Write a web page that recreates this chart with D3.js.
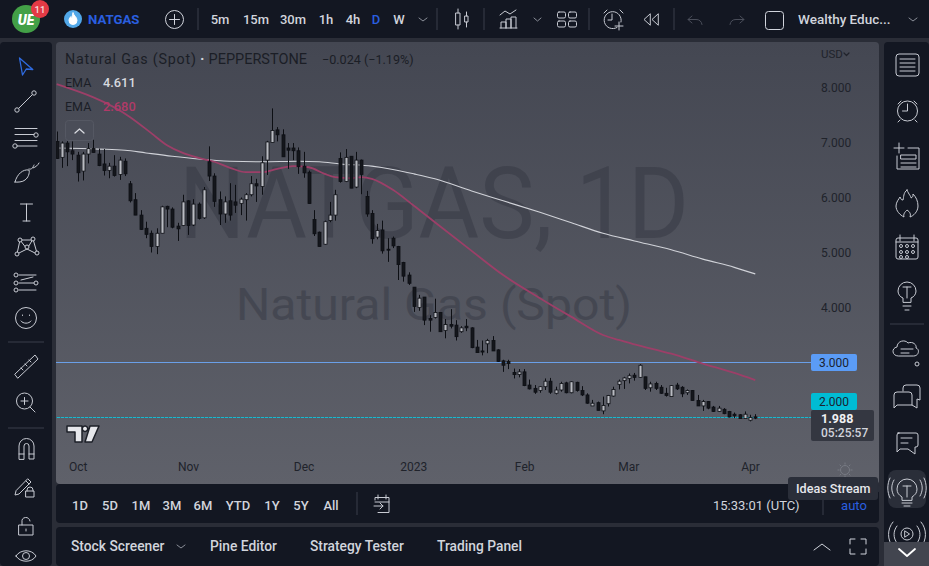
<!DOCTYPE html>
<html><head><meta charset="utf-8">
<style>html,body{margin:0;padding:0;background:#2a2d37;overflow:hidden}svg{display:block}text{font-family:Roboto,"Noto Sans",sans-serif}</style>
<script src="https://cdn.jsdelivr.net/npm/d3@7/dist/d3.min.js"></script>
</head><body><script>
// ---- data ----
const opens=[7.02,6.73,6.99,6.85,6.77,6.48,6.79,6.89,6.79,6.61,6.49,6.57,6.42,6.66,6.25,5.96,5.68,5.44,5.35,5.11,5.35,5.84,5.79,5.48,5.49,5.94,5.50,5.88,5.63,6.65,6.39,5.96,5.70,5.94,5.92,5.89,5.96,6.05,6.25,6.20,6.68,7.00,7.23,7.14,6.90,6.90,6.85,6.57,6.46,5.60,5.37,5.15,5.58,5.68,6.71,6.29,6.75,6.19,6.68,6.02,5.71,5.28,5.41,5.06,5.26,5.11,4.82,4.59,4.37,4.00,4.19,3.80,3.82,3.91,3.58,3.69,3.68,3.56,3.66,3.63,3.28,3.21,3.34,3.40,3.23,3.03,3.02,2.82,2.78,2.83,2.59,2.53,2.49,2.56,2.66,2.44,2.50,2.63,2.45,2.64,2.49,2.41,2.21,2.27,2.12,2.25,2.39,2.60,2.67,2.71,2.77,2.73,2.74,2.54,2.62,2.55,2.44,2.38,2.59,2.55,2.45,2.49,2.31,2.21,2.29,2.19,2.11,2.15,2.11,2.06,2.05,1.98,1.95,2.012];
const highs=[7.20,7.02,7.03,7.02,6.83,6.83,6.99,7.05,6.89,6.88,6.63,6.77,6.74,6.71,6.30,6.08,5.77,5.56,5.40,5.44,5.85,5.85,5.82,5.54,6.05,5.95,5.97,5.91,6.19,6.93,6.44,6.11,6.02,6.26,6.23,6.00,6.08,6.39,6.34,6.75,7.03,7.62,7.28,7.24,6.99,6.99,6.91,6.83,6.49,5.77,5.38,5.58,5.92,6.14,6.82,6.88,6.75,6.83,6.69,6.12,5.77,5.52,5.58,5.26,5.29,5.12,4.83,4.64,4.37,4.23,4.19,3.86,4.16,3.91,3.79,3.97,3.77,3.66,3.79,3.64,3.41,3.40,3.43,3.48,3.24,3.05,3.05,2.89,2.88,2.88,2.69,2.59,2.57,2.71,2.72,2.56,2.65,2.65,2.66,2.65,2.57,2.44,2.32,2.29,2.38,2.41,2.56,2.69,2.74,2.80,2.81,2.97,2.74,2.65,2.65,2.59,2.54,2.59,2.63,2.57,2.51,2.50,2.41,2.32,2.30,2.21,2.21,2.17,2.12,2.09,2.06,2.11,2.05,2.06];
const lows=[6.70,6.54,6.57,6.68,6.29,6.31,6.62,6.82,6.57,6.40,6.35,6.38,6.32,6.39,5.91,5.68,5.41,5.26,5.00,4.97,5.35,5.46,5.44,5.21,5.48,5.32,5.48,5.60,5.61,6.30,5.83,5.50,5.54,5.58,5.72,5.68,5.58,6.02,5.92,6.05,6.41,7.00,7.02,6.74,6.52,6.68,6.43,6.36,5.89,5.30,5.11,5.14,5.55,5.58,6.27,6.28,6.17,6.17,6.06,5.65,5.16,5.24,4.98,4.83,5.08,4.50,4.47,4.41,3.92,3.94,3.68,3.56,3.80,3.56,3.44,3.62,3.40,3.54,3.57,3.26,3.18,3.13,3.17,3.21,3.01,2.83,2.88,2.71,2.73,2.57,2.51,2.43,2.45,2.50,2.43,2.42,2.47,2.44,2.44,2.47,2.39,2.25,2.21,2.13,2.06,2.20,2.38,2.51,2.52,2.62,2.67,2.72,2.50,2.47,2.50,2.43,2.38,2.38,2.50,2.37,2.41,2.31,2.21,2.12,2.15,2.10,2.10,2.06,2.00,1.99,1.98,1.98,1.93,1.97];
const closes=[6.71,6.99,6.83,6.79,6.45,6.79,6.89,6.82,6.58,6.49,6.57,6.40,6.68,6.43,5.94,5.68,5.42,5.33,5.11,5.35,5.83,5.79,5.46,5.43,5.92,5.49,5.88,5.62,6.14,6.39,5.93,5.70,5.92,5.68,5.86,5.97,6.05,6.25,6.21,6.63,7.01,7.22,7.14,6.74,6.86,6.85,6.56,6.45,5.89,5.34,5.11,5.56,5.68,6.05,6.29,6.73,6.17,6.68,6.42,5.70,5.25,5.40,5.03,5.05,5.12,4.78,4.57,4.44,4.02,4.17,3.77,3.77,3.91,3.56,3.69,3.66,3.47,3.63,3.63,3.27,3.18,3.19,3.40,3.21,3.02,2.95,2.98,2.78,2.83,2.58,2.52,2.46,2.56,2.66,2.46,2.50,2.62,2.45,2.65,2.49,2.41,2.26,2.26,2.13,2.22,2.40,2.51,2.66,2.72,2.76,2.73,2.95,2.53,2.61,2.53,2.44,2.40,2.58,2.52,2.43,2.49,2.31,2.21,2.29,2.17,2.11,2.17,2.07,2.01,2.03,1.98,2.06,2.00,1.988];
const ema200Bars=[0,8,13,17,22,27,33,39,46,50,54,60,64,68,72,79,85,92,98,104,110,117,123,129,133];
const ema200=[6.90,6.88,6.86,6.81,6.75,6.70,6.66,6.65,6.66,6.65,6.61,6.57,6.51,6.43,6.34,6.12,5.94,5.73,5.54,5.35,5.21,5.05,4.88,4.73,4.611];
const ema50Bars=[0,14,18,21,24,27,30,33,36,39,42,45,48,51,53,56,58,60,64,68,72,79,85,92,98,104,107,110,117,123,129,133];
const ema50=[8.06,7.46,7.17,6.95,6.81,6.72,6.65,6.54,6.46,6.46,6.52,6.57,6.55,6.43,6.37,6.35,6.37,6.34,6.14,5.85,5.55,5.03,4.59,4.17,3.83,3.50,3.41,3.33,3.16,2.98,2.81,2.68];
const priceTicks=[8,7,6,5,4];
const levelPrices=[3,2];
const monthBars=[4,25,47,69,89,109,132];
const monthLabels=["Oct","Nov","Dec","2023","Feb","Mar","Apr"];
const periods=["5m","15m","30m","1h","4h","D","W"];
const ranges=["1D","5D","1M","3M","6M","YTD","1Y","5Y","All"];
const tabs=["Stock Screener","Pine Editor","Strategy Tester","Trading Panel"];

// ---- canvas ----
const W=929,H=566,UI="#131722",FG="#d1d4dc",ICON="#c8cbd3",BLUE="#2a5fe0";
const svg=d3.select("body").append("svg").attr("width",W).attr("height",H);
const defs=svg.append("defs");
const g=defs.append("linearGradient").attr("id","bg").attr("x1",0).attr("x2",0).attr("y1",0).attr("y2",1);
g.append("stop").attr("offset",0).attr("stop-color","#444752");
g.append("stop").attr("offset",1).attr("stop-color","#5f616a");
defs.append("clipPath").attr("id","plot").append("rect").attr("x",56).attr("y",42).attr("width",755).attr("height",442);

const rect=(x,y,w,h,f,r=0)=>svg.append("rect").attr("x",x).attr("y",y).attr("width",w).attr("height",h).attr("fill",f).attr("rx",r);
const txt=(x,y,s,o={})=>svg.append("text").attr("x",x).attr("y",y).text(s)
  .attr("fill",o.f||FG).attr("font-size",o.s||13).attr("font-weight",o.w||400).attr("text-anchor",o.a||"start")
  .attr("dominant-baseline","central");
const ico=(d,o={})=>svg.append("path").attr("d",d).attr("fill",o.f||"none").attr("stroke",o.c||ICON).attr("stroke-width",o.w||1).attr("stroke-linecap","round").attr("stroke-linejoin","round");
const sep=(x1,y1,x2,y2)=>svg.append("line").attr("x1",x1).attr("y1",y1).attr("x2",x2).attr("y2",y2).attr("stroke","#3a3e4a");

// panels
rect(0,0,W,38,UI);
rect(0,42,52,H-42,UI,4);
rect(884,42,45,H-42,UI,4);
rect(56,42,823,442,"url(#bg)",4);
rect(56,484,823,39,UI,4);
rect(56,527,823,39,UI,4);

// watermark
txt(434,203,"NATGAS, 1D",{s:100,f:"#30333e",a:"middle"}).attr("opacity",.42).attr("textLength",510).attr("lengthAdjust","spacingAndGlyphs");
txt(434,305,"Natural Gas (Spot)",{s:44,f:"#30333e",a:"middle"}).attr("opacity",.42).attr("textLength",396).attr("lengthAdjust","spacingAndGlyphs");

// scales
const x=d3.scaleLinear().domain([0,133]).range([56.7,755.3]);
const y=d3.scaleLinear().domain([8,3]).range([87.5,362.5]);

// level lines
const plot=svg.append("g").attr("clip-path","url(#plot)");
const levelColors=["#6a9fe8","#1fb6cc"];
plot.selectAll("line.level").data(levelPrices).join("line").attr("class","level")
  .attr("x1",56).attr("x2",811).attr("y1",d=>y(d)).attr("y2",d=>y(d))
  .attr("stroke",(d,i)=>levelColors[i]).attr("stroke-width",1);
plot.append("line").attr("x1",56).attr("x2",811).attr("y1",y(2)).attr("y2",y(2))
  .attr("stroke","#1a1d25").attr("stroke-dasharray","1 3").attr("opacity",.35);

// EMAs
const pts=(b,v)=>b.map((d,i)=>[d,v[i]]);
const ln=d3.line().x(d=>x(d[0])).y(d=>y(d[1])).curve(d3.curveMonotoneX);
plot.append("path").attr("d",ln(pts(ema200Bars,ema200))).attr("fill","none").attr("stroke","#d0d2d8").attr("stroke-width",1.1);
plot.append("path").attr("d",ln(pts(ema50Bars,ema50))).attr("fill","none").attr("stroke","#9c3f68").attr("stroke-width",1.8);

// candles
const idx=d3.range(opens.length);
const c=plot.selectAll("g.c").data(idx).join("g").attr("class","c");
c.append("line").attr("x1",i=>Math.round(x(i))+.5).attr("x2",i=>Math.round(x(i))+.5).attr("y1",i=>y(highs[i])).attr("y2",i=>y(lows[i])).attr("stroke","#0d0f14");
c.append("rect").attr("x",i=>Math.round(x(i))-1).attr("width",3)
  .attr("y",i=>y(Math.max(opens[i],closes[i]))).attr("height",i=>Math.max(1,Math.abs(y(opens[i])-y(closes[i]))))
  .attr("fill",i=>closes[i]>=opens[i]?"#b9bbc2":"#14161c").attr("stroke","#0d0f14").attr("stroke-width",.8);

// axes
const ay=svg.append("g").attr("transform","translate(821,0)").call(d3.axisRight(y).tickValues(priceTicks).tickFormat(d3.format(".3f")).tickSize(0).tickPadding(0));
ay.select(".domain").remove();
ay.selectAll("text").attr("fill","#20232b").attr("font-size",12).attr("font-family","Roboto,sans-serif");
const ax=svg.append("g").attr("transform","translate(0,462)").call(d3.axisBottom(x).tickValues(monthBars).tickFormat((d,i)=>monthLabels[i]).tickSize(0).tickPadding(0));
ax.select(".domain").remove();
ax.selectAll("text").attr("fill","#20232b").attr("font-size",12).attr("font-family","Roboto,sans-serif");
ax.selectAll(".tick").filter((d,i)=>i===3).select("text").attr("dx",-6);
ax.selectAll(".tick").filter((d,i)=>i===5).select("text").attr("dx",-1);

// legend
txt(65,59,"Natural Gas (Spot)",{s:14.3,f:"#1b1e26"}).attr("textLength",131).attr("lengthAdjust","spacing");
txt(200,59,"·",{s:15,f:FG,w:700});
txt(208.500,59,"PEPPERSTONE",{s:14.5,f:"#1b1e26"});
txt(322,59.5,"−0.024 (−1.19%)",{s:12.6,f:"#1b1e26"});
txt(65,82,"EMA",{s:12.5,f:"#1b1e26"});
txt(103,82,"4.611",{s:12.8,f:"#d6d8de",w:500});
txt(65,106,"EMA",{s:12.5,f:"#1b1e26"});
txt(103,106,"2.680",{s:12.8,f:"#b03a68",w:500});
rect(65.5,120.5,28,20,"#4a4d58",3).attr("stroke","#555863");
ico("M75 133l4.500-4 4.500 4",{c:"#d8dae0",w:1.3});

// right axis bits
txt(821,54,"USD",{s:11.5,f:"#20232b"});
ico("M844 53l2.500 2.500 2.500-2.500",{c:"#20232b",w:1.2});
rect(811,354,46,17,"#5b9cf6",2);
txt(834,362.5,"3.000",{s:12,f:"#1c2330",a:"middle"});
rect(811,393,46,17,"#00bcd4",2);
txt(834,401.5,"2.000",{s:12,f:"#1c2330",a:"middle"});
rect(811,410,63,31,"#343741",2);
txt(821,418,"1.988",{s:12.5,f:"#f0f1f4",w:700});
txt(821,433,"05:25:57",{s:12,f:FG,w:500});

// TradingView mark
ico("M67 426h15v16h-7v-10h-8zM85 426a2.700 2.700 0 1 0 .01 0M90 426h9l-7 16h-7z",{f:"#e6e7eb",c:"#1d2028",w:1.5});

// sun icon
const sun=svg.append("g").attr("transform","translate(845,470)");
sun.append("circle").attr("r",4.500).attr("fill","none").attr("stroke","#777a83");
d3.range(8).forEach(i=>{const a=i*Math.PI/4;sun.append("line").attr("x1",5.500*Math.cos(a)).attr("y1",5.500*Math.sin(a)).attr("x2",7.500*Math.cos(a)).attr("y2",7.500*Math.sin(a)).attr("stroke","#777a83");});

// top bar
svg.append("circle").attr("cx",26).attr("cy",19).attr("r",14).attr("fill","#43a047");
txt(26,20,"UE",{s:14,f:"#fff",w:900,a:"middle"}).attr("font-style","italic");
svg.append("circle").attr("cx",40).attr("cy",9).attr("r",9).attr("fill","#e33a45");
txt(40,9.500,"11",{s:9.500,f:"#f4dcdc",w:500,a:"middle"});
svg.append("circle").attr("cx",73).attr("cy",19).attr("r",9).attr("fill","#52a8e8");
ico("M73 13c1 3 4 4 4 7.500a4 4 0 0 1-8 0c0-2 1-3 2-4 0 1 .5 1.500 1 1.500 .5-1.500 0-3 1-5z",{f:"#fff",c:"#fff"});
txt(88,19,"NATGAS",{s:13.2,f:BLUE,w:700});
svg.append("circle").attr("cx",174.500).attr("cy",19.500).attr("r",9).attr("fill","none").attr("stroke",FG);
ico("M169.500 19.500h10M174.500 14.500v10",{c:FG});
sep(198,8,198,30);
const periodX=[220,256,293,326,353,376,399];
periods.forEach((p,i)=>txt(periodX[i],19,p,{s:13,w:500,a:"middle",f:p==="D"?BLUE:FG}));
ico("M419 18l4 3 4-3",{c:"#8a8e98"});
sep(437,8,437,30);
ico("M456 13h4v12h-4zM458 9v4M458 25v4M465 16h3v6h-3zM466.500 12v4M466.500 22v5");
sep(484,8,484,30);
ico("M500 15l5-4 5 3 6-4M501 28v-6h5v6M506 28v-9h5v9M511 28v-11h5v11M500 28h17");
ico("M534 18l3.500 3 3.500-3",{c:"#8a8e98"});
ico("M559 12h5a1.500 1.500 0 0 1 1.500 1.500v3a1.500 1.500 0 0 1-1.500 1.500h-5a1.500 1.500 0 0 1-1.500-1.500v-3a1.500 1.500 0 0 1 1.500-1.500zM570 12h5a1.500 1.500 0 0 1 1.500 1.500v3a1.500 1.500 0 0 1-1.500 1.500h-5a1.500 1.500 0 0 1-1.500-1.500v-3a1.500 1.500 0 0 1 1.500-1.500zM559 21h5a1.500 1.500 0 0 1 1.500 1.500v3a1.500 1.500 0 0 1-1.500 1.500h-5a1.500 1.500 0 0 1-1.500-1.500v-3a1.500 1.500 0 0 1 1.500-1.500zM570 21h5a1.500 1.500 0 0 1 1.500 1.500v3a1.500 1.500 0 0 1-1.500 1.500h-5a1.500 1.500 0 0 1-1.500-1.500v-3a1.500 1.500 0 0 1 1.500-1.500z");
sep(589,8,589,30);
ico("M621 22a8.500 8.500 0 1 0-4 5.500M612 14v6h-4M604 13l3-3M620 10l3 3M619 22v8M615 26h8");
ico("M650 14l-6 5.500 6 5.500zM658 14l-6 5.500 6 5.500z");
sep(674,8,674,30);
ico("M692 16l-4 3.500 4 3.500M688 19.500h8a6 6 0 0 1 6 5",{c:"#4a4e5a"});
ico("M740 16l4 3.500-4 3.500M744 19.500h-8a6 6 0 0 0-6 5",{c:"#4a4e5a"});
rect(765.500,11.500,18,18,"none",3).attr("stroke",FG);
txt(798,19,"Wealthy Educ...",{s:13.5,w:500});
ico("M909 18l4 3 4-3",{c:"#8a8e98"});

// left toolbar
ico("M19.500 58l3 17 3.800-6 6.500 .5z",{c:"#2f6be0",w:1.3});
ico("M17 110l17-17");
[[17,110],[34,93],[36,135],[15,146]].forEach(p=>svg.append("circle").attr("cx",p[0]).attr("cy",p[1]).attr("r",2.200).attr("fill",UI).attr("stroke",ICON));
ico("M15 128.500h22M15 134.500h19M17 146h20M15 140.500h22");
ico("M15 182c2-8 8-13 14-12 1 3-1 8-4 10-2 2-8 2.500-10 2zM29 169c3 1 4-2 5-4M33 168c3-1 5-3 6-5");
ico("M20.500 204h12M26.500 204v17M23 221h7");
ico("M17 254l3-14 7 9 6-10 4 14M20 240l13 0M17 254l10-5 10 5M27 249v-3",{});
[[17,254],[20,240],[27,247],[33,239],[37,253]].forEach(p=>svg.append("circle").attr("cx",p[0]).attr("cy",p[1]).attr("r",2).attr("fill",UI).attr("stroke",ICON));
ico("M19 275h17M19 283h17M19 290h17M21 280l12-3");
[[16,275],[16,283],[16,290],[36,283]].forEach(p=>svg.append("circle").attr("cx",p[0]).attr("cy",p[1]).attr("r",2).attr("fill",UI).attr("stroke",ICON));
svg.append("circle").attr("cx",26).attr("cy",318).attr("r",10.500).attr("fill","none").attr("stroke",ICON);
ico("M21 321c2 3 8 3 10 0M22.500 315v.5M29.500 315v.5",{});
sep(8,342,44,342);
ico("M15 374l20-19 3 4-20 19zM21 368l2 2M25 364l2 2M29 360l2 2",{});
svg.append("circle").attr("cx",24.500).attr("cy",401).attr("r",8).attr("fill","none").attr("stroke",ICON);
ico("M30 407l5 5M21 401h7M24.500 397.500v7");
sep(8,428,44,428);
ico("M19 459v-13a7.500 7.500 0 0 1 15 0v13h-5v-13a2.500 2.500 0 0 0-5 0v13zM19 454h5M29 454h5",{});
ico("M16 491l-1 4 4-1 12-12-3-3zM26 481l3 3M27 491v-1a3 3 0 0 1 6 0v1M26 491h8v6h-8z",{});
ico("M19 525h14v10h-14zM22 525v-3a4 4 0 0 1 8-1M26 529v2",{});
ico("M16 556c4-7 16-7 20 0-4 7-16 7-20 0z");
svg.append("circle").attr("cx",26).attr("cy",556).attr("r",3.500).attr("fill","none").attr("stroke",ICON);

// right toolbar
rect(896,54,23,22,"none",3).attr("stroke",ICON);
ico("M900 59h15M900 63h15M900 67h15M900 71h15");
svg.append("circle").attr("cx",907.500).attr("cy",111).attr("r",10).attr("fill","none").attr("stroke",ICON);
ico("M907.500 104v7h-5M898 104l3-3M917 104l-3-3M900 120l-2 2M915 120l2 2");
ico("M894 148h10M899 143v10M908 148h11v21h-22v-13M901 155h15v4h-15zM901 163h15M901 167h15");
ico("M907 190c2 5 4 6 4 8 2-1 2-2 2-4 3 3 5 7 5 12 0 6-5 10-8 11 1-3 0-5-3-7-2 2-4 4-3 7-4-2-8-6-8-11 0-4 3-7 4-9 1 2 1 3 3 3 1-3 0-7 4-10z");
rect(896,238,22,21,"none",2).attr("stroke",ICON);
ico("M900 235v6M914 235v6M896 242h22");
[[901,246],[907,246],[913,246],[901,252],[907,252],[913,252],[901,257],[907,257]].forEach(p=>svg.append("circle").attr("cx",p[0]).attr("cy",p[1]).attr("r",1.500).attr("fill","none").attr("stroke",ICON));
ico("M903 302v-4c-3-1-5-4-5-7a9 9 0 0 1 18 0c0 3-2 6-5 7v4zM903 306h8M905 310h4M903 287h8M907 287v11");
sep(890,324,924,324);
ico("M898 356c-6 0-7-8-1-9 0-6 8-8 11-4 5-2 9 2 8 5 4 1 3 8-2 8zM901 349h12M901 353h8");
svg.append("circle").attr("cx",917).attr("cy",364).attr("r",2).attr("fill","none").attr("stroke",ICON);
ico("M903 391v-3a3 3 0 0 1 3-3h11a3 3 0 0 1 3 3v12l-3-1v9l-5-3h-15l-3 3v-13a3 3 0 0 1 3-3h12a3 3 0 0 1 3 3v10");
ico("M898 433h18a2 2 0 0 1 2 2v10a2 2 0 0 1-2 2h-1v7l-7-5h-8l-3 3v-17a2 2 0 0 1 2-2zM901 438h11M901 443h7");
rect(888,470,38,38,"#2a2e39",8);
ico("M902 500v-3c-3-2-5-4-5-8a10 10 0 0 1 20 0c0 4-2 6-5 8v3zM902 503h10M904 506h6M903 486h8M907 486v11");
ico("M894 480c-3 5-3 11 0 16M890 478c-3 6-3 14 0 20M920 480c3 5 3 11 0 16M924 478c3 6 3 14 0 20");
svg.append("circle").attr("cx",907).attr("cy",534).attr("r",6).attr("fill","none").attr("stroke",ICON);
ico("M905 531l4.500 3-4.500 3zM897 526c-4 5-4 12 0 17M917 526c4 5 4 12 0 17M893 522c-6 7-6 18 0 25M921 522c6 7 6 18 0 25");
rect(884,542,45,24,"#42454f");
ico("M899 549l8 7 8-7",{c:"#fff",w:1.8});

// range row
const rangeX=[80,110,141,172,203,238,272,301,331];
ranges.forEach((r,i)=>txt(rangeX[i],505,r,{s:13,w:500,a:"middle"}));
sep(357,492,357,515);
ico("M375 500v-2.500h14v15h-11M375 502h14M378 495v4M386 495v4M374 506h9M380 503l3 3-3 3");
txt(713,505,"15:33:01 (UTC)",{s:13});
sep(823,495,823,515);
txt(854,505,"auto",{s:13,f:BLUE,a:"middle"});

// tooltip
rect(788,477,90,23,"#2a2e39",3);
ico("M878 485l4 3.500-4 3.500z",{f:"#2a2e39",c:"#2a2e39"});
txt(796,488.500,"Ideas Stream",{s:12.6,f:"#e6e7eb",w:500});

// bottom tabs
const tabX=[71,210,310,437];
tabs.forEach((t,i)=>txt(tabX[i],546,t,{s:13.8,w:500}));
ico("M177 545l4 3 4-3",{c:"#8a8e98"});
ico("M814 550l8-6 8 6",{c:FG});
ico("M850 544v-5h5M861 539h5v5M866 549v5h-5M855 554h-5v-5",{c:FG});
</script></body></html>
